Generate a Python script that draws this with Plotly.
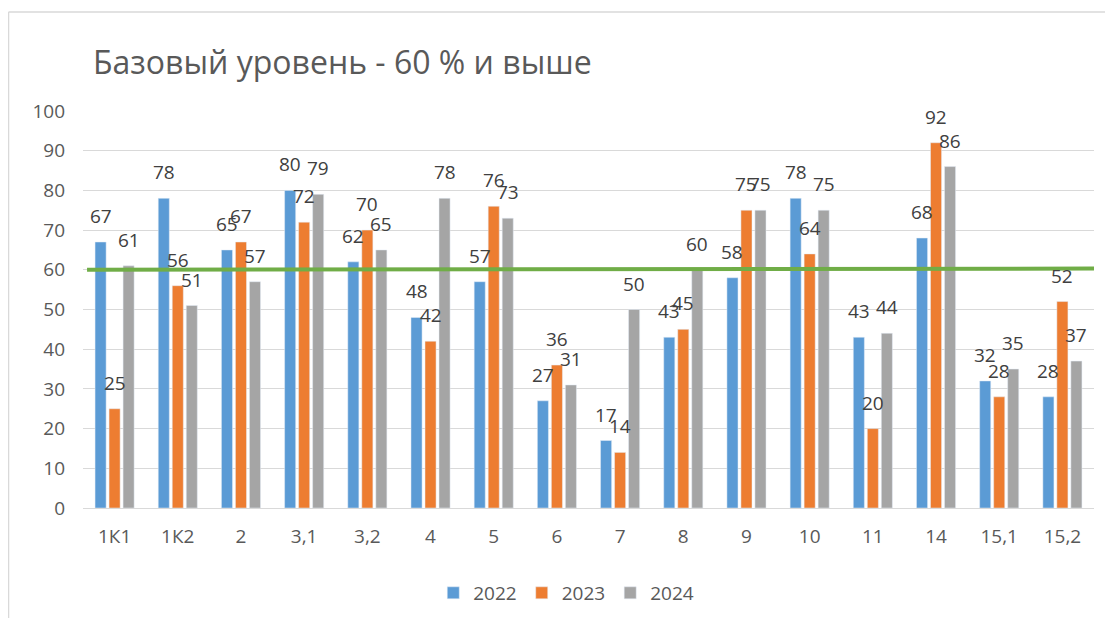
import plotly.graph_objects as go

categories = ["1К1", "1К2", "2", "3,1", "3,2", "4", "5", "6", "7", "8", "9", "10", "11", "14", "15,1", "15,2"]
v2022 = [67, 78, 65, 80, 62, 48, 57, 27, 17, 43, 58, 78, 43, 68, 32, 28]
v2023 = [25, 56, 67, 72, 70, 42, 76, 36, 14, 45, 75, 64, 20, 92, 28, 52]
v2024 = [61, 51, 57, 79, 65, 78, 73, 31, 50, 60, 75, 75, 44, 86, 35, 37]
series_names = ["2022", "2023", "2024"]
colors = ["#5B9BD5", "#ED7D31", "#A5A5A5"]
THRESHOLD = 60
title_text = "Базовый уровень - 60 % и выше"

FONT = "Open Sans"
W, H = 1097, 610
L, R, T, B = 75, 11, 103, 110
plot_w = W - L - R
plot_h = H - T - B

fig = go.Figure()
all_series = [v2022, v2023, v2024]
for name, vals, c in zip(series_names, all_series, colors):
    fig.add_trace(go.Bar(x=categories, y=vals, name=name, marker_color=c))

# data labels placed above each bar (category index used as position on the category axis)
slot_px = plot_w / len(categories) * (1 - 0.335) / 3
for i, vals in enumerate(all_series):
    for idx, v in enumerate(vals):
        fig.add_annotation(x=idx, y=v, text=str(v), showarrow=False,
                           xshift=(i - 1) * slot_px, yshift=26, yanchor="middle",
                           font=dict(family=FONT, size=19, color="#404040"))

fig.add_shape(type="line", xref="paper", yref="y", x0=0.004, x1=1.0,
              y0=THRESHOLD, y1=THRESHOLD + 0.3, line=dict(color="#70AD47", width=4))
# chart border (top and left edges)
fig.add_shape(type="line", xref="paper", yref="paper", x0=-L / plot_w + 0.0005, x1=1 + R / plot_w,
              y0=(H - B - 4) / plot_h, y1=(H - B - 4) / plot_h, line=dict(color="#D9D9D9", width=1.5))
fig.add_shape(type="line", xref="paper", yref="paper", x0=-L / plot_w + 0.0005, x1=-L / plot_w + 0.0005,
              y0=-B / plot_h, y1=(H - B - 4) / plot_h, line=dict(color="#D9D9D9", width=1.5))

fig.update_layout(
    width=W, height=H,
    margin=dict(l=L, r=R, t=T, b=B, autoexpand=False),
    paper_bgcolor="white", plot_bgcolor="white",
    barmode="group", bargap=0.335, bargroupgap=0.21,
    title=dict(text=title_text, x=85 / W, xanchor="left", y=1 - 55 / H, yanchor="middle",
               font=dict(family=FONT, size=32, color="#595959")),
    legend=dict(orientation="h", x=0.478, xanchor="center", y=-0.214, yanchor="middle",
                font=dict(family=FONT, size=19, color="#595959"), traceorder="normal"),
)
fig.update_yaxes(range=[0, 100], dtick=10, showgrid=True, gridcolor="#D9D9D9", gridwidth=1,
                 zeroline=True, zerolinecolor="#D9D9D9", zerolinewidth=1,
                 tickfont=dict(family=FONT, size=19, color="#595959"), ticklabelstandoff=17,
                 showline=False)
fig.update_xaxes(showline=False, tickfont=dict(family=FONT, size=19, color="#595959"),
                 ticklabelstandoff=15)

fig.write_html("out.html")
